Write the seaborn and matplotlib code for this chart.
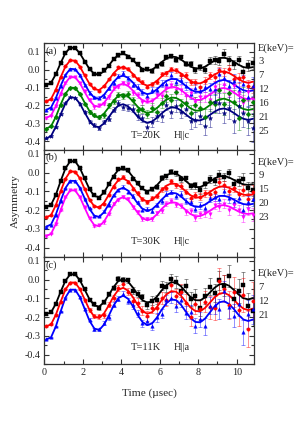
# --Libraries--

# -For numerical arrays
import numpy as np

# -For static plotting (figure, axes, error bars)
import matplotlib
matplotlib.use("Agg")
import matplotlib.pyplot as plt
from matplotlib.ticker import MultipleLocator

# -For the line and scatter layers
import seaborn as sns

# --Data--

# -Common time grid (microseconds)
time = [0.1, 0.35, 0.6, 0.85, 1.1, 1.35, 1.6, 1.85, 2.1, 2.35, 2.6, 2.85, 3.1, 3.35, 3.6,
        3.85, 4.1, 4.35, 4.6, 4.85, 5.1, 5.35, 5.6, 5.85, 6.1, 6.35, 6.6, 6.85, 7.1, 7.35,
        7.6, 7.85, 8.1, 8.35, 8.6, 8.85, 9.1, 9.35, 9.6, 9.85, 10.1, 10.35, 10.6, 10.85]

# -Error bars
err_lo = [0.003, 0.003, 0.003, 0.003, 0.003, 0.003, 0.003, 0.003, 0.004, 0.004, 0.005, 0.005, 0.006, 0.006, 0.007,
          0.007, 0.008, 0.008, 0.009, 0.009, 0.010, 0.010, 0.011, 0.011, 0.012, 0.013, 0.013, 0.014, 0.015, 0.015,
          0.016, 0.017, 0.018, 0.019, 0.020, 0.021, 0.022, 0.023, 0.024, 0.025, 0.027, 0.029, 0.031, 0.034]
err_mid = [0.004, 0.004, 0.004, 0.004, 0.004, 0.004, 0.004, 0.004, 0.006, 0.007, 0.008, 0.008, 0.009, 0.010, 0.011,
           0.011, 0.013, 0.013, 0.014, 0.015, 0.016, 0.016, 0.017, 0.018, 0.019, 0.021, 0.021, 0.022, 0.024, 0.024,
           0.026, 0.027, 0.029, 0.030, 0.032, 0.034, 0.035, 0.037, 0.038, 0.040, 0.043, 0.046, 0.050, 0.054]
err_hi = [0.005, 0.005, 0.005, 0.005, 0.005, 0.005, 0.005, 0.005, 0.008, 0.009, 0.010, 0.011, 0.012, 0.013, 0.014,
          0.015, 0.017, 0.018, 0.020, 0.021, 0.023, 0.024, 0.026, 0.027, 0.029, 0.031, 0.033, 0.035, 0.037, 0.039,
          0.041, 0.043, 0.046, 0.048, 0.051, 0.054, 0.057, 0.060, 0.063, 0.066, 0.070, 0.074, 0.078, 0.082]
err_c = [0.004, 0.004, 0.004, 0.004, 0.004, 0.004, 0.004, 0.004, 0.006, 0.007, 0.008, 0.009, 0.010, 0.011, 0.012,
         0.013, 0.014, 0.015, 0.017, 0.018, 0.019, 0.021, 0.022, 0.024, 0.025, 0.027, 0.029, 0.031, 0.033, 0.035,
         0.037, 0.039, 0.041, 0.044, 0.046, 0.049, 0.052, 0.055, 0.058, 0.061, 0.065, 0.069, 0.073, 0.077]
err_c_red = [0.005, 0.005, 0.005, 0.005, 0.005, 0.005, 0.005, 0.005, 0.008, 0.009, 0.010, 0.012, 0.013, 0.014, 0.016,
             0.017, 0.018, 0.020, 0.022, 0.023, 0.025, 0.027, 0.029, 0.031, 0.033, 0.035, 0.038, 0.040, 0.043, 0.046,
             0.048, 0.051, 0.053, 0.057, 0.060, 0.064, 0.068, 0.072, 0.075, 0.079, 0.085, 0.090, 0.095, 0.100]

# -Panel (a): T=20K, H||c
a3_fit = [-0.085, -0.073, -0.025, 0.038, 0.094, 0.124, 0.122, 0.092, 0.047, 0.004, -0.023, -0.027, -0.009, 0.024, 0.058,
          0.083, 0.090, 0.079, 0.055, 0.027, 0.005, -0.004, 0.001, 0.019, 0.043, 0.063, 0.074, 0.071, 0.058, 0.038,
          0.019, 0.007, 0.007, 0.017, 0.034, 0.052, 0.065, 0.068, 0.060, 0.045, 0.028, 0.015, 0.010, 0.015]
a3_dat = [-0.085, -0.073, -0.025, 0.038, 0.094, 0.124, 0.122, 0.092, 0.046, 0.007, -0.026, -0.025, -0.004, 0.019, 0.061,
          0.081, 0.096, 0.072, 0.057, 0.032, 0.001, 0.006, -0.006, 0.020, 0.033, 0.071, 0.078, 0.057, 0.069, 0.035,
          0.033, -0.002, 0.014, 0.000, 0.050, 0.056, 0.050, 0.091, 0.053, 0.030, 0.052, -0.014, 0.026, 0.039]
a7_fit = [-0.177, -0.164, -0.111, -0.042, 0.019, 0.053, 0.051, 0.018, -0.032, -0.079, -0.109, -0.114, -0.093, -0.058, -0.020,
          0.007, 0.015, 0.003, -0.023, -0.054, -0.078, -0.089, -0.082, -0.062, -0.037, -0.015, -0.003, -0.005, -0.020, -0.042,
          -0.063, -0.076, -0.076, -0.065, -0.046, -0.027, -0.013, -0.009, -0.018, -0.034, -0.053, -0.067, -0.073, -0.067]
a7_dat = [-0.177, -0.164, -0.111, -0.042, 0.019, 0.053, 0.051, 0.018, -0.030, -0.080, -0.105, -0.119, -0.092, -0.054, -0.024,
          0.013, 0.013, 0.006, -0.032, -0.051, -0.070, -0.095, -0.080, -0.070, -0.025, -0.020, 0.005, -0.004, -0.032, -0.028,
          -0.068, -0.067, -0.094, -0.061, -0.032, -0.040, -0.004, -0.014, 0.004, -0.054, -0.045, -0.038, -0.089, -0.098]
a12_fit = [-0.225, -0.212, -0.159, -0.090, -0.029, 0.005, 0.003, -0.030, -0.080, -0.127, -0.157, -0.162, -0.141, -0.106, -0.068,
           -0.041, -0.033, -0.045, -0.071, -0.102, -0.126, -0.137, -0.130, -0.110, -0.085, -0.063, -0.051, -0.053, -0.068, -0.090,
           -0.111, -0.124, -0.124, -0.113, -0.094, -0.075, -0.061, -0.057, -0.066, -0.082, -0.101, -0.115, -0.121, -0.115]
a12_dat = [-0.225, -0.212, -0.159, -0.090, -0.029, 0.005, 0.003, -0.030, -0.084, -0.128, -0.154, -0.156, -0.147, -0.104, -0.072,
           -0.034, -0.020, -0.049, -0.084, -0.094, -0.124, -0.145, -0.116, -0.114, -0.079, -0.080, -0.032, -0.066, -0.058, -0.092,
           -0.137, -0.105, -0.118, -0.095, -0.107, -0.106, -0.026, -0.046, -0.093, -0.062, -0.114, -0.078, -0.151, -0.093]
a16_fit = [-0.270, -0.257, -0.204, -0.135, -0.074, -0.040, -0.042, -0.075, -0.125, -0.172, -0.202, -0.207, -0.186, -0.151, -0.113,
           -0.086, -0.078, -0.090, -0.116, -0.147, -0.171, -0.182, -0.175, -0.155, -0.130, -0.108, -0.096, -0.098, -0.113, -0.135,
           -0.156, -0.169, -0.169, -0.158, -0.139, -0.120, -0.106, -0.102, -0.111, -0.127, -0.146, -0.160, -0.166, -0.160]
a16_dat = [-0.270, -0.257, -0.204, -0.135, -0.074, -0.040, -0.042, -0.075, -0.121, -0.168, -0.210, -0.200, -0.191, -0.154, -0.102,
           -0.094, -0.075, -0.080, -0.129, -0.141, -0.179, -0.168, -0.178, -0.142, -0.149, -0.102, -0.083, -0.116, -0.111, -0.149,
           -0.130, -0.180, -0.154, -0.152, -0.168, -0.096, -0.117, -0.087, -0.141, -0.091, -0.133, -0.188, -0.126, -0.171]
a21_fit = [-0.330, -0.317, -0.264, -0.195, -0.134, -0.100, -0.102, -0.135, -0.185, -0.232, -0.262, -0.267, -0.246, -0.211, -0.173,
           -0.146, -0.138, -0.150, -0.176, -0.207, -0.231, -0.242, -0.235, -0.215, -0.190, -0.168, -0.156, -0.158, -0.173, -0.195,
           -0.216, -0.229, -0.229, -0.218, -0.199, -0.180, -0.166, -0.162, -0.171, -0.187, -0.206, -0.220, -0.226, -0.220]
a21_dat = [-0.330, -0.317, -0.264, -0.195, -0.134, -0.100, -0.102, -0.135, -0.192, -0.237, -0.252, -0.264, -0.256, -0.199, -0.176,
           -0.140, -0.148, -0.137, -0.172, -0.228, -0.219, -0.249, -0.212, -0.237, -0.187, -0.149, -0.169, -0.123, -0.199, -0.187,
           -0.241, -0.195, -0.215, -0.266, -0.179, -0.191, -0.115, -0.192, -0.133, -0.180, -0.269, -0.168, -0.249, -0.179]
a25_fit = [-0.385, -0.372, -0.319, -0.250, -0.189, -0.155, -0.157, -0.190, -0.240, -0.287, -0.317, -0.322, -0.301, -0.266, -0.228,
           -0.201, -0.193, -0.205, -0.231, -0.262, -0.286, -0.297, -0.290, -0.270, -0.245, -0.223, -0.211, -0.213, -0.228, -0.250,
           -0.271, -0.284, -0.284, -0.273, -0.254, -0.235, -0.221, -0.217, -0.226, -0.242, -0.261, -0.275, -0.281, -0.275]
a25_dat = [-0.385, -0.372, -0.319, -0.250, -0.189, -0.155, -0.157, -0.190, -0.237, -0.292, -0.309, -0.325, -0.295, -0.275, -0.224,
           -0.186, -0.208, -0.212, -0.219, -0.258, -0.270, -0.321, -0.293, -0.259, -0.262, -0.195, -0.237, -0.203, -0.235, -0.219,
           -0.289, -0.280, -0.261, -0.316, -0.269, -0.181, -0.187, -0.241, -0.213, -0.288, -0.205, -0.245, -0.289, -0.324]

# -Panel (b): T=30K, H||c
b9_fit = [-0.183, -0.172, -0.119, -0.045, 0.022, 0.061, 0.060, 0.024, -0.033, -0.089, -0.125, -0.131, -0.107, -0.064, -0.018,
          0.014, 0.024, 0.009, -0.023, -0.059, -0.088, -0.099, -0.091, -0.068, -0.039, -0.015, -0.003, -0.006, -0.022, -0.045,
          -0.066, -0.078, -0.077, -0.066, -0.049, -0.032, -0.020, -0.019, -0.026, -0.039, -0.053, -0.063, -0.066, -0.062]
b9_dat = [-0.183, -0.172, -0.119, -0.045, 0.022, 0.061, 0.060, 0.024, -0.031, -0.090, -0.121, -0.136, -0.106, -0.060, -0.022,
          0.020, 0.022, 0.012, -0.032, -0.056, -0.080, -0.105, -0.089, -0.076, -0.027, -0.020, 0.005, -0.005, -0.034, -0.031,
          -0.071, -0.069, -0.095, -0.062, -0.035, -0.045, -0.011, -0.024, -0.004, -0.059, -0.045, -0.034, -0.082, -0.093]
b15_fit = [-0.238, -0.227, -0.174, -0.100, -0.033, 0.006, 0.005, -0.031, -0.088, -0.144, -0.180, -0.186, -0.162, -0.119, -0.073,
           -0.041, -0.031, -0.046, -0.078, -0.114, -0.143, -0.154, -0.146, -0.123, -0.094, -0.070, -0.058, -0.061, -0.077, -0.100,
           -0.121, -0.133, -0.132, -0.121, -0.104, -0.087, -0.075, -0.074, -0.081, -0.094, -0.108, -0.118, -0.121, -0.117]
b15_dat = [-0.238, -0.227, -0.174, -0.100, -0.033, 0.006, 0.005, -0.031, -0.090, -0.144, -0.178, -0.182, -0.166, -0.118, -0.076,
           -0.037, -0.023, -0.048, -0.086, -0.109, -0.142, -0.159, -0.137, -0.125, -0.090, -0.080, -0.046, -0.069, -0.071, -0.102,
           -0.135, -0.121, -0.128, -0.110, -0.112, -0.106, -0.053, -0.067, -0.098, -0.081, -0.116, -0.095, -0.140, -0.103]
b20_fit = [-0.288, -0.277, -0.224, -0.150, -0.083, -0.044, -0.045, -0.081, -0.138, -0.194, -0.230, -0.236, -0.212, -0.169, -0.123,
           -0.091, -0.081, -0.096, -0.128, -0.164, -0.193, -0.204, -0.196, -0.173, -0.144, -0.120, -0.108, -0.111, -0.127, -0.150,
           -0.171, -0.183, -0.182, -0.171, -0.154, -0.137, -0.125, -0.124, -0.131, -0.144, -0.158, -0.168, -0.171, -0.167]
b20_dat = [-0.288, -0.277, -0.224, -0.150, -0.083, -0.044, -0.045, -0.081, -0.139, -0.191, -0.233, -0.234, -0.207, -0.174, -0.120,
           -0.093, -0.075, -0.103, -0.126, -0.159, -0.197, -0.194, -0.203, -0.172, -0.154, -0.112, -0.104, -0.125, -0.116, -0.153,
           -0.157, -0.192, -0.175, -0.188, -0.138, -0.133, -0.140, -0.101, -0.138, -0.159, -0.134, -0.197, -0.155, -0.143]
b23_fit = [-0.338, -0.327, -0.274, -0.200, -0.133, -0.094, -0.095, -0.131, -0.188, -0.244, -0.280, -0.286, -0.262, -0.219, -0.173,
           -0.141, -0.131, -0.146, -0.178, -0.214, -0.243, -0.254, -0.246, -0.223, -0.194, -0.170, -0.158, -0.161, -0.177, -0.200,
           -0.221, -0.233, -0.232, -0.221, -0.204, -0.187, -0.175, -0.174, -0.181, -0.194, -0.208, -0.218, -0.221, -0.217]
b23_dat = [-0.338, -0.327, -0.274, -0.200, -0.133, -0.094, -0.095, -0.131, -0.185, -0.242, -0.285, -0.281, -0.266, -0.221, -0.166,
           -0.146, -0.129, -0.140, -0.186, -0.210, -0.248, -0.245, -0.248, -0.215, -0.206, -0.167, -0.150, -0.172, -0.176, -0.209,
           -0.205, -0.240, -0.223, -0.217, -0.222, -0.172, -0.182, -0.165, -0.200, -0.171, -0.200, -0.235, -0.196, -0.224]

# -Panel (c): T=11K, H||a
c7_fit = [-0.184, -0.175, -0.129, -0.065, -0.006, 0.028, 0.028, -0.004, -0.054, -0.105, -0.138, -0.144, -0.122, -0.083, -0.040,
          -0.008, 0.002, -0.011, -0.042, -0.080, -0.110, -0.123, -0.116, -0.091, -0.058, -0.030, -0.014, -0.017, -0.036, -0.065,
          -0.093, -0.110, -0.111, -0.096, -0.070, -0.044, -0.026, -0.022, -0.033, -0.055, -0.080, -0.099, -0.106, -0.099]
c7_dat = [-0.184, -0.175, -0.129, -0.065, -0.006, 0.028, 0.028, -0.004, -0.051, -0.107, -0.132, -0.152, -0.121, -0.076, -0.046,
          0.004, -0.001, -0.005, -0.059, -0.075, -0.095, -0.136, -0.112, -0.108, -0.033, -0.041, 0.003, -0.014, -0.062, -0.033,
          -0.104, -0.090, -0.152, -0.087, -0.038, -0.073, -0.005, -0.033, 0.019, -0.104, -0.060, -0.030, -0.143, -0.168]
c12_fit = [-0.249, -0.239, -0.188, -0.118, -0.053, -0.016, -0.016, -0.051, -0.106, -0.162, -0.198, -0.205, -0.181, -0.138, -0.090,
           -0.055, -0.044, -0.059, -0.093, -0.135, -0.168, -0.182, -0.174, -0.147, -0.110, -0.079, -0.062, -0.065, -0.086, -0.118,
           -0.149, -0.168, -0.169, -0.152, -0.124, -0.095, -0.075, -0.071, -0.083, -0.107, -0.135, -0.155, -0.163, -0.155]
c12_dat = [-0.249, -0.239, -0.188, -0.118, -0.053, -0.016, -0.016, -0.051, -0.111, -0.163, -0.194, -0.196, -0.190, -0.135, -0.096,
           -0.045, -0.026, -0.065, -0.113, -0.123, -0.166, -0.196, -0.151, -0.153, -0.100, -0.107, -0.028, -0.089, -0.069, -0.123,
           -0.197, -0.133, -0.158, -0.118, -0.148, -0.152, -0.007, -0.050, -0.136, -0.067, -0.160, -0.083, -0.263, -0.115]
c21_fit = [-0.319, -0.308, -0.250, -0.170, -0.096, -0.054, -0.054, -0.094, -0.156, -0.220, -0.261, -0.269, -0.241, -0.193, -0.139,
           -0.099, -0.086, -0.102, -0.141, -0.189, -0.226, -0.243, -0.234, -0.203, -0.161, -0.126, -0.106, -0.110, -0.134, -0.170,
           -0.205, -0.226, -0.228, -0.209, -0.176, -0.144, -0.121, -0.116, -0.130, -0.157, -0.189, -0.213, -0.221, -0.213]
c21_dat = [-0.319, -0.308, -0.250, -0.170, -0.096, -0.054, -0.054, -0.094, -0.157, -0.214, -0.266, -0.266, -0.232, -0.202, -0.134,
           -0.103, -0.076, -0.116, -0.138, -0.180, -0.234, -0.222, -0.247, -0.201, -0.181, -0.110, -0.097, -0.141, -0.111, -0.177,
           -0.172, -0.246, -0.212, -0.249, -0.139, -0.134, -0.157, -0.061, -0.147, -0.194, -0.130, -0.282, -0.184, -0.159]

# -Axis ticks and labels
ytick_vals = [-0.4, -0.3, -0.2, -0.1, 0.0, 0.1]
ytick_text = ['-0.4', '-0.3', '-0.2', '-0.1', '0.0', '0.1']
xtick_vals = [0, 2, 4, 6, 8, 10]

# --Style--

sns.set_style("ticks")
plt.rcParams['font.family'] = ['Liberation Serif', 'DejaVu Serif']
plt.rcParams['axes.unicode_minus'] = False

W, H = 299, 428
fig = plt.figure(figsize=(W / 100, H / 100), dpi=100)


def fx(px):
    return px / W


def fy(py):
    return 1 - py / H


# -Panel definitions: (tag, T text, H text, ylim, top px, bottom px, series, label rows, tag y, text y)
panels = [
    ('(a)', 'T=20K', 'H||c', (-0.45, 0.15), 43, 150,
     [('3', a3_dat, a3_fit, err_lo, '#000000', 's'),
      ('7', a7_dat, a7_fit, err_lo, '#ff0000', 'o'),
      ('12', a12_dat, a12_fit, err_mid, '#0000ff', '^'),
      ('16', a16_dat, a16_fit, err_mid, '#ff00ff', 'v'),
      ('21', a21_dat, a21_fit, err_hi, '#008000', 'D'),
      ('25', a25_dat, a25_fit, err_hi, '#000080', '*')],
     [48, 62, 76, 90, 104, 118, 132], 51, 135),
    ('(b)', 'T=30K', 'H||c', (-0.45, 0.12), 150, 257,
     [('9', b9_dat, b9_fit, err_lo, '#000000', 's'),
      ('15', b15_dat, b15_fit, err_lo, '#ff0000', 'o'),
      ('20', b20_dat, b20_fit, err_lo, '#0000ff', '^'),
      ('23', b23_dat, b23_fit, err_lo, '#ff00ff', 'v')],
     [162, 175, 189, 203, 217], 157, 241),
    ('(c)', 'T=11K', 'H||a', (-0.45, 0.12), 257, 364,
     [('7', c7_dat, c7_fit, err_c, '#000000', 's'),
      ('12', c12_dat, c12_fit, err_c_red, '#ff0000', 'o'),
      ('21', c21_dat, c21_fit, err_c, '#0000ff', '^')],
     [273, 288, 302, 316], 265, 347),
]

ax_left, ax_right = 44.3, 254

for i, (tag, ttxt, htxt, ylim, top, bot, series, rows, tag_y, txt_y) in enumerate(panels):
    ax = fig.add_axes([fx(ax_left), fy(bot), fx(ax_right - ax_left), (bot - top) / H])

    # -Data with error bars, fit curves on top
    for lab, dat, fit, err, col, mk in series:
        ax.errorbar(time, dat, yerr=err, fmt='none', ecolor=col, elinewidth=0.5,
                    capsize=1.3, capthick=0.5, alpha=0.6, zorder=1)
        sns.lineplot(x=time, y=fit, color=col, lw=1.3, ax=ax, zorder=2, legend=False)
        sns.scatterplot(x=time, y=dat, color=col, marker=mk, s=6 if mk != '*' else 11,
                        edgecolor=col, linewidth=0.3, ax=ax, zorder=3, legend=False)

    ax.set_xlim(0, 10.9)
    ax.set_ylim(*ylim)
    ax.set_xticks(xtick_vals)
    ax.xaxis.set_minor_locator(MultipleLocator(1))
    ax.set_yticks(ytick_vals)
    ax.set_yticklabels(ytick_text)
    ax.yaxis.set_minor_locator(MultipleLocator(0.05))
    ax.tick_params(which='both', direction='in', top=True, right=True,
                   labelsize=7.3, width=0.8, color='#333333', pad=3)
    ax.tick_params(which='major', length=3.5)
    ax.tick_params(which='minor', length=2)
    if i < 2:
        ax.set_xticklabels([])
    for sp in ax.spines.values():
        sp.set_linewidth(0.9)
        sp.set_color('#333333')
    ax.set_xlabel('')
    ax.set_ylabel('')

    # -Panel annotations
    fig.text(fx(45.5), fy(tag_y), tag, fontsize=7.6, ha='left', va='center')
    fig.text(fx(130.5), fy(txt_y), ttxt, fontsize=7.6, ha='left', va='center')
    fig.text(fx(173.5), fy(txt_y), htxt, fontsize=7.6, ha='left', va='center')

    # -Energy column on the right
    fig.text(fx(257.5), fy(rows[0]), 'E(keV)=', fontsize=7.6, ha='left', va='center')
    for (lab, *_), ry in zip(series, rows[1:]):
        fig.text(fx(258.5), fy(ry), lab, fontsize=7.6, ha='left', va='center')

# -Shared axis labels
fig.text(fx(15), fy(201.5), 'Asymmetry', rotation=90, fontsize=8.1, ha='center', va='center')
fig.text(fx(149.5), fy(393), 'Time (\u00b5sec)', fontsize=8.1, ha='center', va='center')

fig.savefig('out.png', dpi=100)
